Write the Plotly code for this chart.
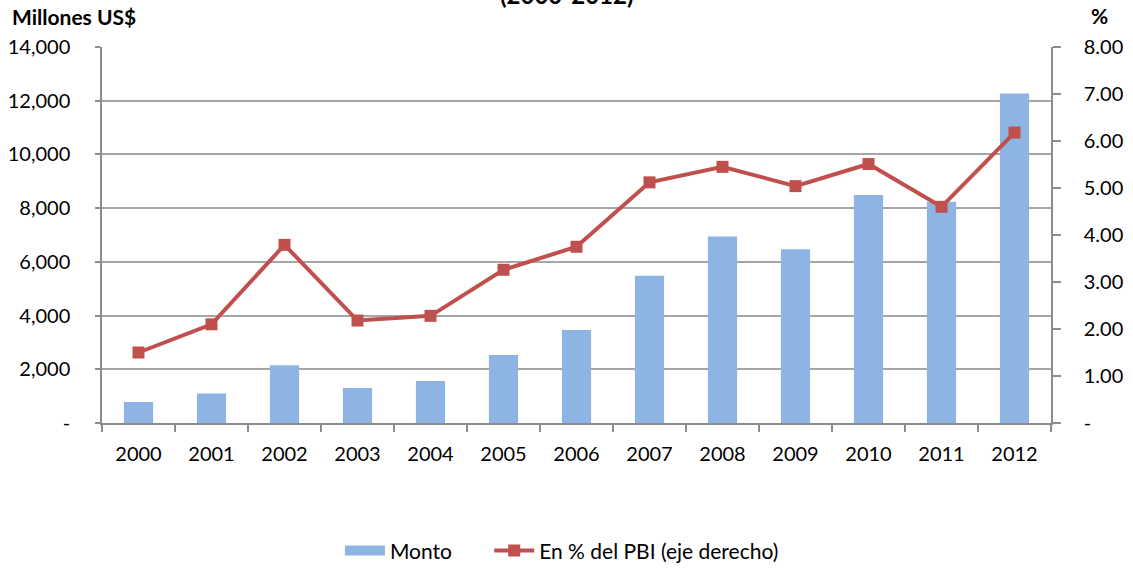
import plotly.graph_objects as go

# Annual amounts (millions of US$) and share of GDP (%)
years = ["2000", "2001", "2002", "2003", "2004", "2005", "2006",
         "2007", "2008", "2009", "2010", "2011", "2012"]
monto = [780, 1100, 2150, 1300, 1560, 2530, 3460,
         5480, 6940, 6470, 8490, 8240, 12270]
pct_pbi = [1.50, 2.10, 3.79, 2.18, 2.28, 3.26, 3.75,
           5.12, 5.45, 5.04, 5.51, 4.60, 6.18]

left_ticks = [0, 2000, 4000, 6000, 8000, 10000, 12000, 14000]
left_labels = ["-", "2,000", "4,000", "6,000", "8,000", "10,000", "12,000", "14,000"]
right_ticks = [0, 1, 2, 3, 4, 5, 6, 7, 8]
right_labels = ["-", "1.00", "2.00", "3.00", "4.00", "5.00", "6.00", "7.00", "8.00"]

FONT = "Lato, 'Open Sans', sans-serif"
AXIS_GREY = "#8c8c8c"
BAR_BLUE = "#8eb4e3"
LINE_RED = "#c0504d"
GAP = "\u00a0" * 6  # extra room between the two legend entries

fig = go.Figure()
fig.add_trace(go.Bar(
    x=years, y=monto, name="Monto", showlegend=False,
    marker=dict(color=BAR_BLUE, line=dict(width=0)),
    width=0.4,
))
# legend entry for the bars, drawn as a wide flat swatch
fig.add_trace(go.Scatter(
    x=[None], y=[None], name="Monto" + GAP, mode="lines",
    line=dict(color=BAR_BLUE, width=16),
))
fig.add_trace(go.Scatter(
    x=years, y=pct_pbi, name="En % del PBI (eje derecho)",
    yaxis="y2", mode="lines+markers",
    line=dict(color=LINE_RED, width=4),
    marker=dict(symbol="square", size=12, color=LINE_RED),
))

fig.update_layout(
    width=1133, height=568,
    margin=dict(l=102, r=82, t=47, b=145, autoexpand=False),
    paper_bgcolor="white", plot_bgcolor="white",
    font=dict(family=FONT, size=20, color="#000000"),
    showlegend=True,
    legend=dict(orientation="h", xref="container", yref="container",
                x=0.30, xanchor="left", y=0.03, yanchor="middle",
                font=dict(size=21), traceorder="normal", itemwidth=40),
    xaxis=dict(
        type="category", range=[-0.5, 12.5], showgrid=False, automargin=False,
        showline=True, linecolor=AXIS_GREY, linewidth=1.5,
        ticks="outside", tickson="boundaries", ticklen=7, tickcolor=AXIS_GREY, tickwidth=1.5,
        tickfont=dict(size=20), ticklabelstandoff=12,
    ),
    yaxis=dict(
        range=[0, 14000], tickvals=left_ticks, ticktext=left_labels, automargin=False,
        showgrid=True, gridcolor="#a6a6a6", gridwidth=1.5,
        showline=True, linecolor=AXIS_GREY, linewidth=1.5,
        ticks="outside", ticklen=5, tickcolor=AXIS_GREY, tickwidth=1.5,
        zeroline=False, tickfont=dict(size=20), ticklabelstandoff=21,
    ),
    yaxis2=dict(
        range=[0, 8], tickvals=right_ticks, ticktext=right_labels, automargin=False,
        overlaying="y", side="right", showgrid=False,
        showline=True, linecolor=AXIS_GREY, linewidth=1.5,
        ticks="outside", ticklen=8, tickcolor=AXIS_GREY, tickwidth=1.5,
        zeroline=False, tickfont=dict(size=20), ticklabelstandoff=19,
    ),
    annotations=[
        dict(text="<b>Millones US$</b>", xref="paper", yref="paper",
             x=-0.097, y=1.08, xanchor="left", yanchor="middle",
             showarrow=False, font=dict(size=21)),
        dict(text="<b>%</b>", xref="paper", yref="paper",
             x=1.04, y=1.085, xanchor="left", yanchor="middle",
             showarrow=False, font=dict(size=21)),
        dict(text="<b>(2000-2012)</b>", xref="paper", yref="paper",
             x=0.49, y=1.14, xanchor="center", yanchor="middle",
             showarrow=False, font=dict(size=24)),
    ],
)

fig.write_html("out.html")
